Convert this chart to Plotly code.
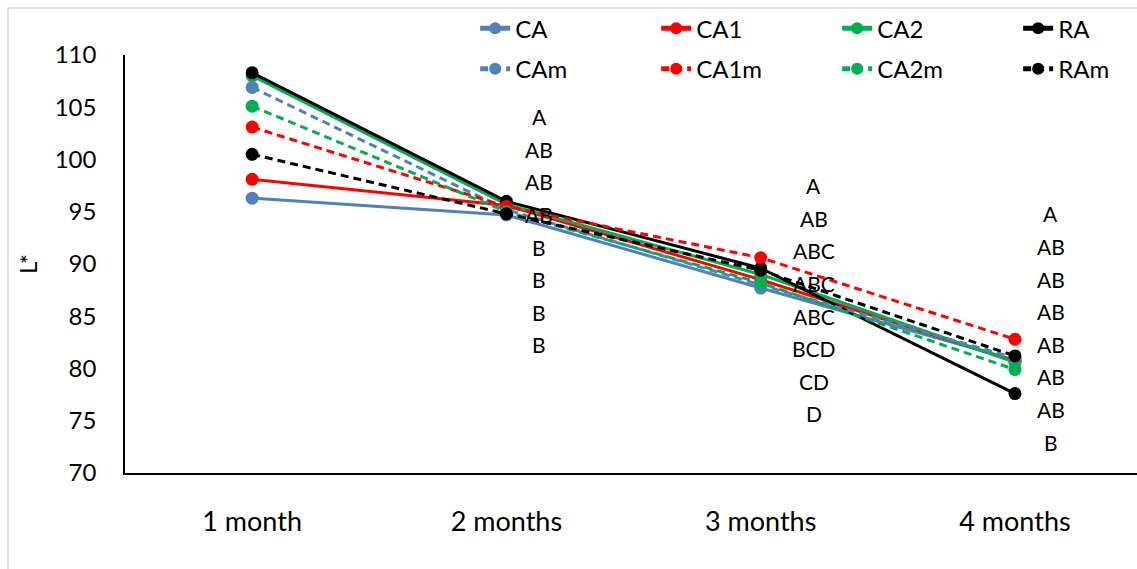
import plotly.graph_objects as go

# Storage time points
months = ["1 month", "2 months", "3 months", "4 months"]

# L* colour values per treatment
CA = [96.3, 94.7, 87.7, 80.8]
CA1 = [98.1, 95.6, 88.5, 80.7]
CA2 = [108.0, 95.7, 89.0, 80.6]
RA = [108.3, 96.0, 89.6, 77.6]
CAm = [106.9, 95.2, 88.0, 81.0]
CA1m = [103.1, 95.5, 90.6, 82.8]
CA2m = [105.1, 95.0, 88.2, 79.9]
RAm = [100.5, 94.8, 89.4, 81.2]

# Significance letters at each time point (months 2-4)
letters_2 = ["A", "AB", "AB", "AB", "B", "B", "B", "B"]
letters_3 = ["A", "AB", "ABC", "ABC", "ABC", "BCD", "CD", "D"]
letters_4 = ["A", "AB", "AB", "AB", "AB", "AB", "AB", "B"]

FONT = "Lato"
BLUE, RED, GREEN, BLACK = "#4F81BD", "#FF0000", "#00B050", "#000000"

series = [
    ("CA", CA, BLUE, "solid", "legend"),
    ("CA1", CA1, RED, "solid", "legend"),
    ("CA2", CA2, GREEN, "solid", "legend"),
    ("RA", RA, BLACK, "solid", "legend"),
    ("CAm", CAm, BLUE, "8px,5px", "legend2"),
    ("CA1m", CA1m, RED, "8px,5px", "legend2"),
    ("CA2m", CA2m, GREEN, "8px,5px", "legend2"),
    ("RAm", RAm, BLACK, "8px,5px", "legend2"),
]

fig = go.Figure()
for name, vals, color, dash, leg in series:
    fig.add_trace(go.Scatter(
        x=months, y=vals, name=name, mode="lines+markers",
        line=dict(color=color, width=3, dash=dash),
        marker=dict(color=color, size=13),
        legend=leg,
    ))

# letter columns beside each time point
label_cols = [("2 months", letters_2, 33, 104.1),
              ("3 months", letters_3, 53, 97.5),
              ("4 months", letters_4, 36, 94.8)]
step = 3.12
for cat, letters, dx, top in label_cols:
    for i, t in enumerate(letters):
        fig.add_annotation(x=cat, y=top - i * step, text=t, showarrow=False,
                           xshift=dx, xanchor="center", yanchor="middle",
                           font=dict(family=FONT, size=21, color="#000000"))

# light chart-area frame
fig.add_shape(type="rect", xref="paper", yref="paper",
              x0=-0.1156, x1=1.05, y0=-0.3, y1=1.1124,
              line=dict(color="#D9D9D9", width=1.5), fillcolor="rgba(0,0,0,0)",
              layer="below")

legend_common = dict(orientation="h", font=dict(family=FONT, size=24, color="#000000"),
                     entrywidth=136, entrywidthmode="pixels",
                     bgcolor="rgba(0,0,0,0)", itemsizing="constant",
                     xanchor="left", yanchor="middle", tracegroupgap=0)
fig.update_layout(
    width=1137, height=569,
    margin=dict(l=125, r=0, t=55, b=96, autoexpand=False),
    paper_bgcolor="white", plot_bgcolor="white",
    font=dict(family=FONT, size=22, color="#000000"),
    showlegend=True,
    legend=dict(x=0.346, y=1.063, **legend_common),
    legend2=dict(x=0.346, y=0.966, **legend_common),
    xaxis=dict(type="category", range=[-0.5, 3.48], showline=True,
               linecolor="#000000", linewidth=1.5, showgrid=False, ticks="",
               ticklabelstandoff=24, tickfont=dict(family=FONT, size=27)),
    yaxis=dict(range=[70, 110], dtick=5, showline=True, linecolor="#000000",
               linewidth=1.5, showgrid=False, zeroline=False, ticks="",
               ticklabelstandoff=22, tickfont=dict(family=FONT, size=24),
               title=dict(text="L*", font=dict(family=FONT, size=24), standoff=10)),
)

fig.write_html("out.html")
